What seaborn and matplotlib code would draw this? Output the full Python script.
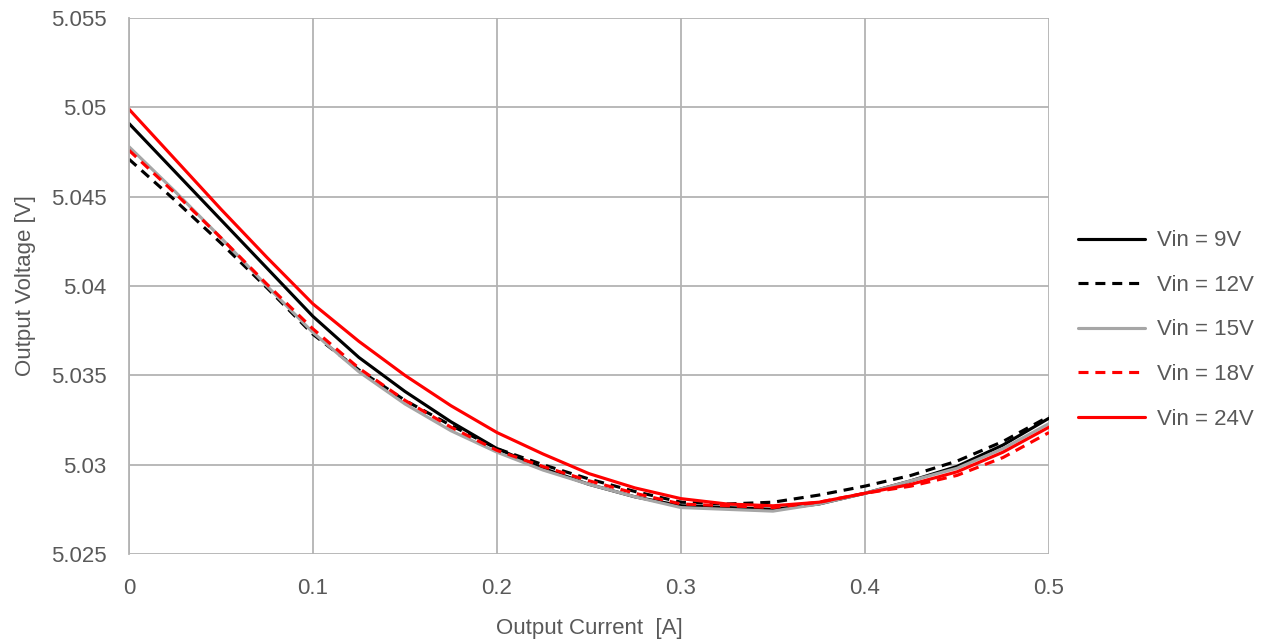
import matplotlib
matplotlib.use("Agg")
import matplotlib.pyplot as plt
import seaborn as sns
import pandas as pd

# Output current [A]
current = [0.0, 0.025, 0.05, 0.075, 0.1, 0.125, 0.15, 0.175, 0.2, 0.225, 0.25,
           0.275, 0.3, 0.325, 0.35, 0.375, 0.4, 0.425, 0.45, 0.475, 0.5]

# Output voltage [V] for each input voltage
vin_9 = [5.0491, 5.0464, 5.0437, 5.0410, 5.0383, 5.0360, 5.0341, 5.0324, 5.0309, 5.0298, 5.0289,
         5.0282, 5.0277, 5.0276, 5.0275, 5.0278, 5.0284, 5.0291, 5.0299, 5.0311, 5.0326]
vin_12 = [5.0471, 5.0448, 5.0424, 5.0399, 5.0373, 5.0353, 5.0336, 5.0322, 5.0309, 5.0300, 5.0292,
          5.0285, 5.0279, 5.0278, 5.0279, 5.0283, 5.0288, 5.0294, 5.0302, 5.0313, 5.0327]
vin_15 = [5.0478, 5.0453, 5.0427, 5.0400, 5.0374, 5.0352, 5.0334, 5.0319, 5.0307, 5.0297, 5.0289,
          5.0282, 5.0276, 5.0275, 5.0274, 5.0278, 5.0284, 5.0291, 5.0298, 5.0309, 5.0323]
vin_18 = [5.0476, 5.0452, 5.0427, 5.0401, 5.0376, 5.0354, 5.0336, 5.0321, 5.0308, 5.0299, 5.0291,
          5.0284, 5.0278, 5.0277, 5.0276, 5.0279, 5.0284, 5.0288, 5.0294, 5.0304, 5.0318]
vin_24 = [5.0499, 5.0471, 5.0443, 5.0416, 5.0390, 5.0369, 5.0350, 5.0333, 5.0318, 5.0306, 5.0295,
          5.0287, 5.0281, 5.0278, 5.0277, 5.0279, 5.0284, 5.0289, 5.0296, 5.0307, 5.0321]

labels = ['Vin = 9V', 'Vin = 12V', 'Vin = 15V', 'Vin = 18V', 'Vin = 24V']
series = [vin_9, vin_12, vin_15, vin_18, vin_24]
colors = ['#000000', '#000000', '#A6A6A6', '#FF0000', '#FF0000']
styles = ['-', (0, (3.2, 2.2)), '-', (0, (3.2, 2.2)), '-']

x_ticks = [0, 0.1, 0.2, 0.3, 0.4, 0.5]
x_ticklabels = ['0', '0.1', '0.2', '0.3', '0.4', '0.5']
y_ticks = [5.025, 5.03, 5.035, 5.04, 5.045, 5.05, 5.055]
y_ticklabels = ['5.025', '5.03', '5.035', '5.04', '5.045', '5.05', '5.055']

sns.set_style('white')
plt.rcParams['font.family'] = ['Liberation Sans', 'DejaVu Sans']
TEXT = '#595959'
GRID = '#B3B3B3'
FS = 16

fig = plt.figure(figsize=(12.83, 6.41), dpi=100)
ax = fig.add_axes([0.1005, 0.1357, 0.7171, 0.8362])

for lab, vals, col, ls in zip(labels, series, colors, styles):
    df = pd.DataFrame({'current': current, 'voltage': vals})
    sns.lineplot(data=df, x='current', y='voltage', color=col, linestyle=ls,
                 linewidth=2.25, ax=ax, label=lab)

ax.set_xlim(0, 0.5)
ax.set_ylim(5.025, 5.055)
ax.set_xticks(x_ticks)
ax.set_xticklabels(x_ticklabels)
ax.set_yticks(y_ticks)
ax.set_yticklabels(y_ticklabels)
ax.tick_params(axis='both', labelsize=FS, colors=TEXT, length=0)
ax.tick_params(axis='y', pad=16)
ax.tick_params(axis='x', pad=17)

ax.grid(True, color=GRID, linewidth=1.3)
for side in ['top', 'right', 'bottom']:
    ax.spines[side].set_visible(False)
ax.spines['left'].set_color(GRID)
ax.spines['left'].set_linewidth(1.3)

ax.set_xlabel('Output Current  [A]', fontsize=FS, color=TEXT, labelpad=14)
ax.set_ylabel('Output Voltage [V]', fontsize=FS, color=TEXT, labelpad=11)

leg = ax.legend(loc='center left', bbox_to_anchor=(1.01, 0.418), frameon=False,
                fontsize=FS, handlelength=3.0, labelspacing=1.06, handletextpad=0.55)
for t in leg.get_texts():
    t.set_color(TEXT)

fig.savefig('out.png', dpi=100)
